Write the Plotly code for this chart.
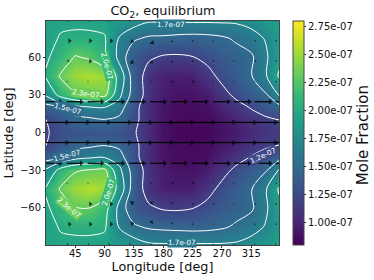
import math
import plotly.graph_objects as go

lons = [0, 22.5, 45, 67.5, 90, 112.5, 135, 157.5, 180, 202.5, 225, 247.5, 270, 292.5, 315, 337.5, 357.5]
lats = [-90, -75, -60, -45, -30, -20, -10, 0, 10, 20, 30, 45, 60, 75, 90]
# mole fraction in units of 1e-7
row_s90 = [1.95, 1.95, 1.94, 1.93, 1.92, 1.88, 1.82, 1.74, 1.73, 1.73, 1.73, 1.73, 1.73, 1.74, 1.80, 1.87, 1.94]
row_s75 = [1.92, 2.02, 2.05, 2.06, 2.03, 1.68, 1.53, 1.47, 1.45, 1.44, 1.43, 1.44, 1.47, 1.53, 1.60, 1.72, 1.90]
row_s60 = [1.96, 2.12, 2.29, 2.30, 2.12, 1.62, 1.35, 1.24, 1.17, 1.16, 1.19, 1.28, 1.36, 1.42, 1.47, 1.66, 1.93]
row_s45 = [2.03, 2.33, 2.50, 2.57, 2.50, 1.85, 1.38, 1.08, 0.98, 0.96, 0.97, 1.10, 1.28, 1.38, 1.49, 1.68, 2.03]
row_s30 = [1.73, 2.10, 2.27, 2.32, 2.36, 1.75, 1.40, 1.08, 0.95, 0.90, 0.90, 0.95, 1.10, 1.27, 1.37, 1.48, 1.72]
row_s20 = [1.42, 1.47, 1.62, 1.68, 1.70, 1.60, 1.30, 1.02, 0.90, 0.86, 0.85, 0.88, 1.00, 1.10, 1.22, 1.36, 1.44]
row_s10 = [1.19, 1.35, 1.43, 1.46, 1.49, 1.45, 1.27, 1.06, 0.90, 0.85, 0.84, 0.85, 0.92, 1.00, 1.08, 1.14, 1.20]
row_eq = [1.18, 1.27, 1.30, 1.32, 1.33, 1.30, 1.23, 1.02, 0.88, 0.83, 0.82, 0.83, 0.88, 0.95, 1.03, 1.10, 1.16]
row_n10 = [1.19, 1.35, 1.43, 1.46, 1.49, 1.45, 1.27, 1.06, 0.90, 0.85, 0.84, 0.85, 0.92, 1.00, 1.08, 1.14, 1.20]
row_n20 = [1.42, 1.47, 1.62, 1.68, 1.70, 1.60, 1.30, 1.02, 0.90, 0.86, 0.85, 0.88, 1.00, 1.10, 1.22, 1.36, 1.44]
row_n30 = [1.73, 2.10, 2.27, 2.32, 2.38, 1.75, 1.40, 1.08, 0.95, 0.90, 0.90, 0.95, 1.10, 1.27, 1.37, 1.48, 1.72]
row_n45 = [2.03, 2.33, 2.50, 2.55, 2.50, 1.85, 1.38, 1.08, 0.98, 0.96, 0.97, 1.10, 1.28, 1.38, 1.49, 1.68, 2.03]
row_n60 = [1.96, 2.12, 2.32, 2.26, 2.05, 1.62, 1.35, 1.24, 1.17, 1.16, 1.19, 1.28, 1.36, 1.42, 1.47, 1.66, 1.93]
row_n75 = [1.92, 2.02, 2.05, 2.05, 2.02, 1.68, 1.53, 1.47, 1.46, 1.44, 1.43, 1.44, 1.47, 1.53, 1.60, 1.72, 1.90]
row_n90 = [1.95, 1.95, 1.94, 1.93, 1.92, 1.88, 1.82, 1.74, 1.75, 1.75, 1.75, 1.75, 1.75, 1.75, 1.80, 1.87, 1.94]
z_rows = [row_s90, row_s75, row_s60, row_s45, row_s30, row_s20, row_s10, row_eq,
          row_n10, row_n20, row_n30, row_n45, row_n60, row_n75, row_n90]
scale_unit = 1e-7
z = [[v * scale_unit for v in r] for r in z_rows]

levels = [1.2e-7, 1.5e-7, 1.7e-7, 2.0e-7, 2.3e-7]
cbar_vals = [1.0e-7, 1.25e-7, 1.5e-7, 1.75e-7, 2.0e-7, 2.25e-7, 2.5e-7, 2.75e-7]
cbar_text = ["1.00e-07", "1.25e-07", "1.50e-07", "1.75e-07", "2.00e-07", "2.25e-07", "2.50e-07", "2.75e-07"]
lon_ticks = [45, 90, 135, 180, 225, 270, 315]
lat_ticks = [-60, -30, 0, 30, 60]
lat_tick_text = ["\u221260", "\u221230", "0", "30", "60"]

# wind vectors (deg of longitude on screen)
wind_lons = [0, 32, 64, 96, 128, 160, 192, 224, 256, 288, 320, 352]
wind_lats = [89, 73, 57, 40.5, 24.5, 8, -8, -24.5, -40.5, -57, -73, -89]
u_rows = [
    [0, 1, 1, 1, 1, 1, 0.5, 0.5, 0.5, 0.5, 0.5, 0.5],
    [0, 4, 4, 4, 4, 3, 1, 1, 0.5, 0.5, 1, 1],
    [0, 2, 4, 0, 4, 2, 1, 1, 1, 0.5, 1, 1],
    [0, 0.5, 0.5, 0, 0, 1, 2, 2, 0.5, 0.5, 0.5, 1],
    [22, 22, 22, 22, 22, 22, 22, 22, 24, 24, 24, 24],
    [32, 32, 32, 32, 32, 32, 32, 32, 32, 32, 32, 32],
    [32, 32, 32, 32, 32, 32, 32, 32, 32, 32, 32, 32],
    [22, 22, 22, 22, 22, 22, 22, 22, 24, 24, 24, 24],
    [0, 0.5, 0.5, 0, 0, 1, 2, 2, 0.5, 0.5, 0.5, 1],
    [0, 2, 4, 4, 4, 2, 1, 1, 1, 0.5, 1, 1],
    [0, 4, 4, 4, 4, 2, 1, 1, 0.5, 0.5, 1, 1],
    [0, 1, 1, 1, 1, 1, 0.5, 0.5, 0.5, 0.5, 0.5, 0.5],
]
v_rows = [
    [0, 0, 0, 0, 0, 0, 0, 0, 0, 0, 0, 0],
    [0, 0, 0, 0, -1, -3, -1, 0, 0, 0, 0, 0],
    [0, 0, 0, 0, -2, -2, -1, 0, 0, 0, 0, 0],
    [0, 0, 0, 0, 0, 0, 0, 0, 0, 0, 0, 0],
    [0, 0, 0, 0, 0, 0, 0, 0, 0, 0, 0, 0],
    [0, 0, 0, 0, 0, 0, 0, 0, 0, 0, 0, 0],
    [0, 0, 0, 0, 0, 0, 0, 0, 0, 0, 0, 0],
    [0, 0, 0, 0, 0, 0, 0, 0, 0, 0, 0, 0],
    [0, 0, 0, 0, 0, 0, 0, 0, 0, 0, 0, 0],
    [0, 0, 0, 0, 2, 2, 1, 0, 0, 0, 0, 0],
    [0, 0, 0, 0, 1, 3, 1, 0, 0, 0, 0, 0],
    [0, 0, 0, 0, 0, 0, 0, 0, 0, 0, 0, 0],
]

contour_labels = [
    ("1.7e-07", 192, 86.4, 0, "#29788e"),
    ("1.7e-07", 209, -87.6, 0, "#29788e"),
    ("2.0e-07", 93, 53, 75, "#3bbb75"),
    ("2.3e-07", 61, 31, 8, "#6ece58"),
    ("1.5e-07", 33, 19, 15, "#2f6c8e"),
    ("1.5e-07", 32, -18, -15, "#2f6c8e"),
    ("2.3e-07", 35, -60, 40, "#6ece58"),
    ("2.0e-07", 96, -48, -72, "#3bbb75"),
    ("1.2e-07", 333, -18, -25, "#3e4a89"),
]

PX_RATIO = 0.653 / 1.258

fig = go.Figure()
fig.add_trace(go.Heatmap(
    x=lons, y=lats, z=z, zsmooth="best", colorscale="Viridis", zmin=0.795e-7, zmax=2.796e-7,
    colorbar=dict(
        x=(293 - 46) / 233, xanchor="left", xpad=0, y=0.5, yanchor="middle", ypad=0, len=1,
        thicknessmode="pixels", thickness=11, outlinecolor="#444", outlinewidth=1,
        tickmode="array", tickvals=cbar_vals, ticktext=cbar_text, ticks="outside", ticklen=2,
        tickcolor="#333", tickfont=dict(size=10, color="#111"),
    ),
))
for lev in levels:
    fig.add_trace(go.Contour(
        x=lons, y=lats, z=z, showscale=False, autocontour=False,
        contours=dict(start=lev, end=lev, size=1e-7, coloring="none"),
        line=dict(color="white", width=1, smoothing=0.9), hoverinfo="skip",
    ))

sx, sy, mx, my, ms, ma = [], [], [], [], [], []
for la, ur, vr in zip(wind_lats, u_rows, v_rows):
    for lo, uu, vv in zip(wind_lons, ur, vr):
        mag = math.hypot(uu, vv)
        if mag == 0:
            continue
        tx, ty = lo + uu, la + vv * PX_RATIO
        if mag > 5:
            sx += [lo, tx, None]
            sy += [la, ty, None]
        mx.append(tx)
        my.append(ty)
        ms.append(min(5, 1.2 + 0.8 * mag))
        ma.append(90 - math.degrees(math.atan2(vv, uu)))
fig.add_trace(go.Scatter(x=sx, y=sy, mode="lines", line=dict(color="black", width=1.2),
                         hoverinfo="skip", showlegend=False))
fig.add_trace(go.Scatter(x=mx, y=my, mode="markers", hoverinfo="skip", showlegend=False,
                         marker=dict(symbol="triangle-up", color="black", size=ms, angle=ma, line=dict(width=0))))

for txt, lo, la, rot, bg in contour_labels:
    fig.add_annotation(x=lo, y=la, text=txt, showarrow=False, textangle=rot,
                       font=dict(size=7.2, color="white"), bgcolor=bg, borderpad=0)
fig.add_annotation(xref="paper", yref="paper", x=(363 - 46) / 233, y=0.49, text="Mole Fraction",
                   xanchor="center", yanchor="middle",
                   showarrow=False, textangle=-90, font=dict(size=15, color="#111"))

axis = dict(showgrid=False, zeroline=False, ticks="outside", ticklen=2, tickcolor="#333",
            showline=True, linecolor="#444", linewidth=1, mirror=True, automargin=False,
            tickfont=dict(size=10, color="#111"))
fig.update_layout(
    width=374, height=280, autosize=False,
    margin=dict(l=46, r=95, t=20.5, b=35.3, autoexpand=False),
    paper_bgcolor="white", plot_bgcolor="white", showlegend=False,
    font=dict(family="DejaVu Sans", color="#111"),
    title=dict(text="CO<sub>2</sub>, equilibrium", font=dict(size=12.8, color="#111"),
               x=163 / 374, xanchor="center", y=0.962, yanchor="middle"),
    xaxis=dict(axis, range=[0, 357.5], tickmode="array", tickvals=lon_ticks,
               ticktext=[str(t) for t in lon_ticks], ticklabelstandoff=-3,
               title=dict(text="Longitude [deg]", font=dict(size=12.8, color="#111"), standoff=3)),
    yaxis=dict(axis, range=[-89.6, 88.8], tickmode="array", tickvals=lat_ticks, ticktext=lat_tick_text,
               title=dict(text="Latitude [deg]", font=dict(size=12.8, color="#111"), standoff=3)),
)
fig.write_html("out.html", config=dict(displayModeBar=False),
               post_script="document.body.style.margin='0';")
